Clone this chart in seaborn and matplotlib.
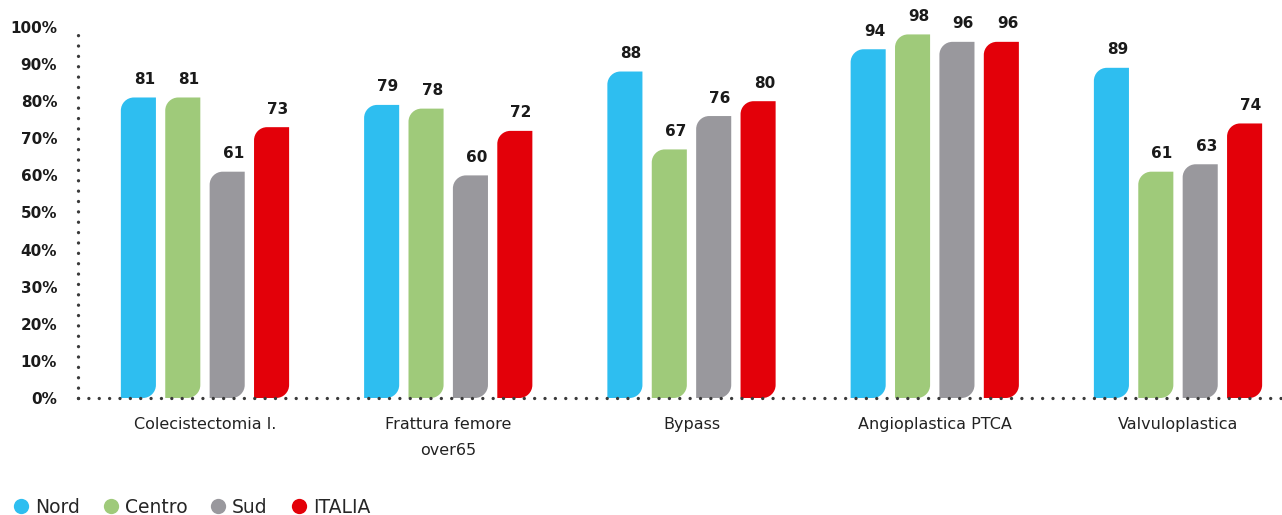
import numpy as np
import pandas as pd
import seaborn as sns
import matplotlib
matplotlib.use("Agg")
import matplotlib.pyplot as plt
from matplotlib.path import Path
from matplotlib.patches import PathPatch
from matplotlib.lines import Line2D

categories = ["Colecistectomia l.", "Frattura femore\nover65", "Bypass",
              "Angioplastica PTCA", "Valvuloplastica"]
areas = ["Nord", "Centro", "Sud", "ITALIA"]
nord = [81, 79, 88, 94, 89]
centro = [81, 78, 67, 98, 61]
sud = [61, 60, 76, 96, 63]
italia = [73, 72, 80, 96, 74]
y_ticks = [0, 10, 20, 30, 40, 50, 60, 70, 80, 90, 100]

colors = {"Nord": "#2EBEF0", "Centro": "#9FCA7A", "Sud": "#99989D", "ITALIA": "#E30009"}

rows = []
for area, vals in zip(areas, [nord, centro, sud, italia]):
    for cat, v in zip(categories, vals):
        rows.append({"cat": cat, "area": area, "val": v})
df = pd.DataFrame(rows)

sns.set_theme(style="white")
plt.rcParams["font.family"] = ["DejaVu Sans"]

W, H = 1282, 515
fig = plt.figure(figsize=(W / 100, H / 100), dpi=100)
ax = fig.add_axes([78 / W, 1 - 398 / H, (W - 78) / W, (398 - 27) / H])

sns.barplot(data=df, x="cat", y="val", hue="area", order=categories,
            hue_order=areas, palette=colors, width=0.73, gap=0.21,
            saturation=1, legend=False, ax=ax, errorbar=None)

ax.set_xlim(-0.522, 4.4275)
ax.set_ylim(0, 100)
for s in ax.spines.values():
    s.set_visible(False)

# bar corners: rounded top-left and bottom-right
r_px = 13
x_per_px = (ax.get_xlim()[1] - ax.get_xlim()[0]) / (W - 78)
y_per_px = 100 / (398 - 27)
rx, ry = r_px * x_per_px, r_px * y_per_px
k = 0.5523  # cubic bezier circle approximation

bars = list(ax.patches)
for p in bars:
    x0, y0 = p.get_x(), p.get_y()
    w, h = p.get_width(), p.get_height()
    x1, y1 = x0 + w, y0 + h
    verts = [
        (x0, y0),
        (x1 - rx, y0),
        (x1 - rx + k * rx, y0), (x1, y0 + ry - k * ry), (x1, y0 + ry),
        (x1, y1),
        (x0 + rx, y1),
        (x0 + rx - k * rx, y1), (x0, y1 - ry + k * ry), (x0, y1 - ry),
        (x0, y0),
    ]
    codes = [Path.MOVETO, Path.LINETO,
             Path.CURVE4, Path.CURVE4, Path.CURVE4,
             Path.LINETO, Path.LINETO,
             Path.CURVE4, Path.CURVE4, Path.CURVE4,
             Path.CLOSEPOLY]
    pp = PathPatch(Path(verts, codes), facecolor=p.get_facecolor(),
                   edgecolor="none", zorder=3)
    ax.add_patch(pp)
    p.set_visible(False)
    ax.annotate(f"{h:.0f}", (x0 + w / 2, y1), xytext=(4.5, 7.5),
                textcoords="offset points", ha="center", va="bottom",
                fontsize=11, fontweight="bold", color="#1a1a1a")

# dotted axes
dot = dict(color="#3a3a3a", linewidth=2.4, linestyle=(0, (0.01, 3.1)),
           dash_capstyle="round", clip_on=False, zorder=4)
ax.axhline(0, **dot)
ax.axvline(ax.get_xlim()[0], ymin=0, ymax=1, **dot)

ax.set_yticks(y_ticks)
ax.set_yticklabels([f"{t}%" for t in y_ticks], fontsize=11, fontweight="bold",
                   color="#1a1a1a")
ax.tick_params(axis="y", length=0, pad=15)
ax.tick_params(axis="x", length=0, pad=14)
ax.set_xticks(range(len(categories)))
ax.set_xticklabels(categories, fontsize=11.5, color="#222222", linespacing=1.9)
ax.set_xlabel("")
ax.set_ylabel("")

handles = [Line2D([], [], marker="o", linestyle="none", markersize=11,
                  markerfacecolor=colors[a], markeredgecolor="none", label=a)
           for a in areas]
fig.legend(handles=handles, loc="lower left", bbox_to_anchor=(0.0, -0.025),
           ncol=4, frameon=False, fontsize=13.5, handletextpad=0.25,
           columnspacing=1.15, handlelength=1.0, borderaxespad=0.2)

fig.savefig("out.png", dpi=100)
